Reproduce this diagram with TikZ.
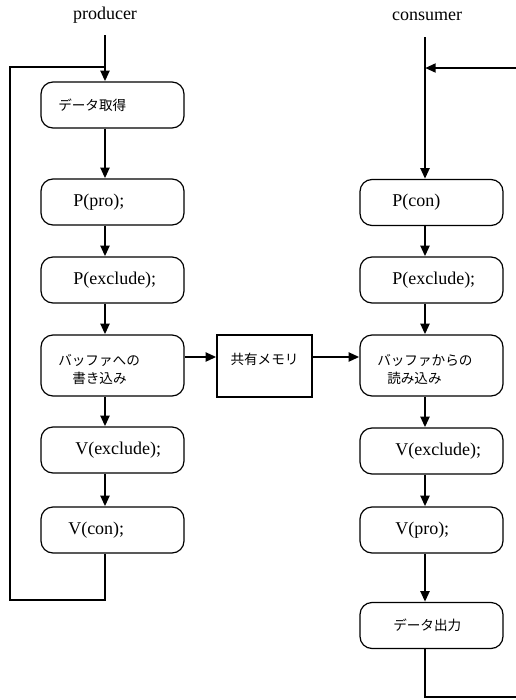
\documentclass[tikz,border=0pt]{standalone}
\usepackage{fontspec}
\setmainfont{Liberation Serif}
\newfontfamily\jp{Noto Sans CJK JP}
\usetikzlibrary{arrows.meta}
\tikzset{
  box/.style={draw, line width=0.9pt, rounded corners=9pt, minimum width=107.25pt, minimum height=34.5pt, inner sep=0pt},
  membox/.style={draw, line width=0.9pt, minimum width=71.25pt, minimum height=46.5pt, inner sep=0pt},
  txt/.style={anchor=west, inner sep=0pt, font=\fontsize{13.5pt}{15pt}\selectfont},
  jtxt/.style={anchor=west, inner sep=0pt, align=left, font=\jp\fontsize{10.2pt}{13.5pt}\selectfont},
  title/.style={inner sep=0pt, font=\fontsize{13.5pt}{15pt}\selectfont},
  wire/.style={line width=2pt},
  flow/.style={wire, -{Triangle[length=8pt,width=6.5pt]}},
}
\begin{document}
\begin{tikzpicture}[x=0.75pt, y=-0.75pt]
\useasboundingbox (0,0) rectangle (516,700);
\clip (0,0) rectangle (516,700);

% titles
\node[title] (prod) at (105,15) {producer};
\node[title] (cons) at (427,16) {consumer};

% producer boxes
\node[box] (dg)   at (112.5,105) {};
\node[box] (ppro) at (112.5,202) {};
\node[box] (pexl) at (112.5,280) {};
\node[box, minimum height=45.75pt] (buf) at (112.5,365.5) {};
\node[box] (vexl) at (112.5,450) {};
\node[box] (vcon) at (112.5,530) {};

\node[jtxt] (dgt)   at (58,105) {データ取得};
\node[txt]  (pprot) at (73,202) {P(pro);};
\node[txt]  (pexlt) at (73,280) {P(exclude);};
\node[jtxt] (buft)  at (58,369) {バッファへの\\\hspace*{10.5pt}書き込み};
\node[txt]  (vexlt) at (75,450) {V(exclude);};
\node[txt]  (vcont) at (68,530) {V(con);};

% shared memory
\node[membox] (mem) at (264.5,366) {};
\node[jtxt, anchor=center] (memt) at (264.5,359) {共有メモリ};

% consumer boxes
\node[box] (pcon) at (431.5,202.5) {};
\node[box] (pexr) at (431.5,280) {};
\node[box, minimum height=45.75pt] (bufr) at (431.5,365.5) {};
\node[box] (vexr) at (431.5,451) {};
\node[box] (vpro) at (431.5,530) {};
\node[box] (dout) at (431.5,625.5) {};

\node[txt]  (pcont) at (392,202.5) {P(con)};
\node[txt]  (pexrt) at (392,280) {P(exclude);};
\node[jtxt] (bufrt) at (377,369) {バッファからの\\\hspace*{7.5pt}読み込み};
\node[txt]  (vexrt) at (395,451) {V(exclude);};
\node[txt]  (vprot) at (395,530) {V(pro);};
\node[jtxt] (doutt) at (393,625.5) {データ出力};

% producer flow
\coordinate (ptop) at (105,35);
\coordinate (lbl) at (10,600);
\coordinate (ltl) at (10,67);
\coordinate (lj) at (105,67);
\draw[flow] (ptop) -- (dg.north -| ptop);
\draw[flow] (dg.south -| ptop) -- (ppro.north -| ptop);
\draw[flow] (ppro.south -| ptop) -- (pexl.north -| ptop);
\draw[flow] (pexl.south -| ptop) -- (buf.north -| ptop);
\draw[flow] (buf.south -| ptop) -- (vexl.north -| ptop);
\draw[flow] (vexl.south -| ptop) -- (vcon.north -| ptop);
\draw[wire] (vcon.south -| ptop) |- (lbl) -- (ltl) -- (lj);

% data transfer
\coordinate (hy) at (0,357);
\draw[flow] (buf.east |- hy) -- (mem.west |- hy);
\draw[flow] (mem.east |- hy) -- (bufr.west |- hy);

% consumer flow
\coordinate (ctop) at (425,37);
\coordinate (rj) at (425,68);
\coordinate (rtr) at (524,68);
\coordinate (rbr) at (524,697);
\draw[flow] (ctop) -- (pcon.north -| ctop);
\draw[flow] (rtr) -- (rj);
\draw[flow] (pcon.south -| ctop) -- (pexr.north -| ctop);
\draw[flow] (pexr.south -| ctop) -- (bufr.north -| ctop);
\draw[flow] (bufr.south -| ctop) -- (vexr.north -| ctop);
\draw[flow] (vexr.south -| ctop) -- (vpro.north -| ctop);
\draw[flow] (vpro.south -| ctop) -- (dout.north -| ctop);
\draw[wire] (dout.south -| ctop) |- (rbr) -- (rtr);
\end{tikzpicture}
\end{document}
